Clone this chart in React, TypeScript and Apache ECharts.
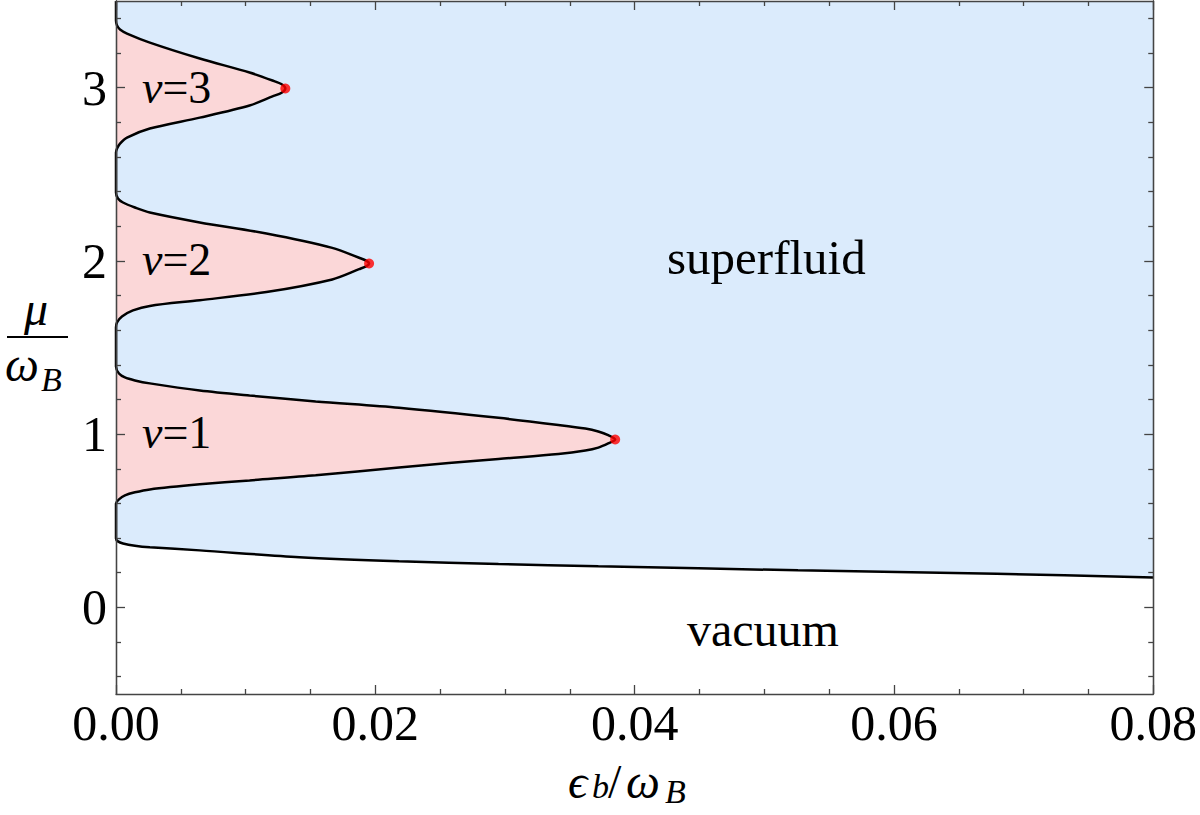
import React, { useEffect, useRef } from "react";
import * as echarts from "echarts";

const FONT = "'Liberation Serif', 'Times New Roman', Times, serif";

// Axis ranges and ticks
const xMin = 0;
const xMax = 0.08;
const xInterval = 0.02;
const yMin = -0.5;
const yMax = 3.5;
const yMajorTicks = [0, 1, 2, 3];
const yMinorTicks = [-0.4, -0.2, 0.2, 0.4, 0.6, 0.8, 1.2, 1.4, 1.6, 1.8, 2.2, 2.4, 2.6, 2.8, 3.2, 3.4];

// Phase boundary pieces: [epsilon_b/omega_B, mu/omega_B]
const lobe3Upper: [number, number][] = [
  [0, 3.387], [0.00008, 3.358], [0.00031, 3.335], [0.00085, 3.312], [0.00261, 3.26],
  [0.00646, 3.168], [0.0103, 3.087], [0.01207, 3.041], [0.01281, 3.018], [0.01306, 2.995],
];
const lobe3Lower: [number, number][] = [
  [0.01281, 2.972], [0.01207, 2.949], [0.0103, 2.897], [0.00646, 2.827], [0.00261, 2.764],
  [0.00085, 2.712], [0.00031, 2.677], [0.00008, 2.649], [0, 2.625],
];
const lobe2Upper: [number, number][] = [
  [0, 2.395], [0.00015, 2.36], [0.00054, 2.337], [0.00146, 2.308], [0.00261, 2.279],
  [0.00646, 2.222], [0.0116, 2.158], [0.01668, 2.075], [0.01875, 2.018], [0.01933, 2.0], [0.01952, 1.985],
];
const lobe2Lower: [number, number][] = [
  [0.01933, 1.97], [0.01875, 1.952], [0.01668, 1.893], [0.0116, 1.82], [0.00646, 1.773],
  [0.00261, 1.74], [0.00131, 1.714], [0.00046, 1.679], [0.00008, 1.645], [0, 1.616],
];
const lobe1Upper: [number, number][] = [
  [0, 1.391], [0.00023, 1.35], [0.00069, 1.327], [0.00146, 1.31], [0.00261, 1.293],
  [0.00646, 1.252], [0.0103, 1.223], [0.0154, 1.189], [0.02183, 1.152], [0.0295, 1.094],
  [0.03412, 1.053], [0.0362, 1.032], [0.0372, 1.015], [0.03796, 0.994], [0.0385, 0.969],
];
const lobe1Lower: [number, number][] = [
  [0.03796, 0.946], [0.0372, 0.922], [0.0362, 0.905], [0.03412, 0.885], [0.0295, 0.857],
  [0.02183, 0.808], [0.0154, 0.762], [0.0103, 0.733], [0.00646, 0.71], [0.00261, 0.681],
  [0.00146, 0.664], [0.00069, 0.646], [0.00023, 0.623], [0, 0.6],
];
const vacuumEdge: [number, number][] = [
  [0, 0.398], [0.00015, 0.381], [0.00054, 0.369], [0.00146, 0.356], [0.00261, 0.347],
  [0.00646, 0.329], [0.01414, 0.29], [0.02183, 0.266], [0.0295, 0.25], [0.0372, 0.237],
  [0.0526, 0.214], [0.0679, 0.194], [0.08, 0.173],
];
const lobeTips: [number, number][] = [
  [0.01306, 2.995], [0.01952, 1.985], [0.0385, 0.969],
];

const superfluidRegion: [number, number][] = [[0, yMax], ...vacuumEdge, [xMax, yMax]];
const lobes: [number, number][][] = [
  [...lobe3Upper, ...lobe3Lower],
  [...lobe2Upper, ...lobe2Lower],
  [...lobe1Upper, ...lobe1Lower],
];
const boundary: [number, number][] = [
  [0, yMax], ...lobe3Upper, ...lobe3Lower, ...lobe2Upper, ...lobe2Lower,
  ...lobe1Upper, ...lobe1Lower, ...vacuumEdge,
];

const BLUE = "#dbebfc";
const PINK = "#fbd7d8";
const AXIS = "#444";

function polygonSeries(points: [number, number][], fill: string, z: number, smooth: number) {
  return {
    type: "custom",
    xAxisIndex: 0,
    yAxisIndex: 0,
    z,
    silent: true,
    clip: true,
    data: points,
    encode: { x: 0, y: 1 },
    renderItem: (params: any, api: any) => {
      if (params.dataIndex !== 0) return null;
      return {
        type: "polygon",
        shape: { points: points.map((p) => api.coord(p)), smooth },
        style: { fill, stroke: null },
      };
    },
  };
}

function xAxisDef(position: "bottom" | "top", labels: boolean) {
  return {
    type: "value",
    position,
    min: xMin,
    max: xMax,
    interval: xInterval,
    z: 10,
    splitLine: { show: false },
    axisLine: { show: true, onZero: false, lineStyle: { color: AXIS, width: 1.3 } },
    axisTick: { show: true, inside: true, length: 9, lineStyle: { color: AXIS, width: 1.3 } },
    minorTick: { show: true, splitNumber: 4, length: 5, lineStyle: { color: AXIS, width: 1.3 } },
    axisLabel: {
      show: labels,
      margin: 4,
      color: "#000",
      fontFamily: FONT,
      fontSize: 50,
      formatter: (v: number) => v.toFixed(2),
    },
  };
}

function yAxisDef(position: "left" | "right", ticks: number[], len: number, labels: boolean) {
  return {
    type: "value",
    position,
    min: yMin,
    max: yMax,
    z: 10,
    splitLine: { show: false },
    axisLine: { show: true, onZero: false, lineStyle: { color: AXIS, width: 1.3 } },
    axisTick: {
      show: true,
      inside: true,
      length: len,
      customValues: ticks,
      lineStyle: { color: AXIS, width: 1.3 },
    },
    minorTick: { show: false },
    axisLabel: {
      show: labels,
      customValues: yMajorTicks,
      margin: 9,
      color: "#000",
      fontFamily: FONT,
      fontSize: 50,
      formatter: (v: number) => String(v),
    },
  };
}

export default function App() {
  const ref = useRef<HTMLDivElement>(null);
  useEffect(() => {
    if (!ref.current) return;
    const chart = echarts.init(ref.current, null, { renderer: "svg" });
    const textStyle = (text: string, size: number, italic: boolean) => ({
      text,
      fontFamily: FONT,
      fontSize: size,
      fontStyle: italic ? "italic" : "normal",
      fill: "#000",
    });
    const nuLabel = (k: string, x: number, y: number) => ({
      type: "text",
      x,
      y,
      z: 100,
      style: {
        text: "{i|ν}=" + k,
        fontFamily: FONT,
        fontSize: 46,
        fill: "#000",
        verticalAlign: "middle",
        align: "left",
        rich: { i: { fontFamily: FONT, fontSize: 46, fontStyle: "italic", fill: "#000" } },
      },
    });
    chart.setOption({
      animation: false,
      backgroundColor: "#ffffff",
      grid: { left: 116, right: 44, top: 1, bottom: 121, containLabel: false },
      xAxis: [xAxisDef("bottom", true), xAxisDef("top", false)],
      yAxis: [
        yAxisDef("left", yMajorTicks, 9, true),
        yAxisDef("left", yMinorTicks, 5, false),
        yAxisDef("right", yMajorTicks, 9, false),
        yAxisDef("right", yMinorTicks, 5, false),
      ],
      series: [
        polygonSeries(superfluidRegion, BLUE, 1, 0),
        ...lobes.map((l) => polygonSeries(l, PINK, 2, 0.3)),
        {
          type: "line",
          name: "boundary",
          xAxisIndex: 0,
          yAxisIndex: 0,
          z: 3,
          data: boundary,
          showSymbol: false,
          symbol: "none",
          smooth: 0.3,
          silent: true,
          lineStyle: { color: "#000", width: 2.5 },
        },
        {
          type: "scatter",
          name: "tips",
          xAxisIndex: 0,
          yAxisIndex: 0,
          z: 4,
          data: lobeTips,
          symbol: "circle",
          symbolSize: 10,
          silent: true,
          itemStyle: { color: "#ff0000" },
        },
      ],
      graphic: [
        nuLabel("3", 142, 87),
        nuLabel("2", 142, 259),
        nuLabel("1", 142, 432),
        { type: "text", x: 667, y: 257, z: 100, style: { ...textStyle("superfluid", 49, false), verticalAlign: "middle" } },
        { type: "text", x: 687, y: 629, z: 100, style: { ...textStyle("vacuum", 48, false), verticalAlign: "middle" } },
        // x axis title: ϵ_b / ω_B
        { type: "text", x: 568, y: 781, z: 100, style: { ...textStyle("ϵ", 48, true), verticalAlign: "middle" } },
        { type: "text", x: 592, y: 786, z: 100, style: { ...textStyle("b", 34, true), verticalAlign: "middle" } },
        { type: "text", x: 608, y: 781, z: 100, style: { ...textStyle("/", 48, false), verticalAlign: "middle" } },
        { type: "text", x: 626, y: 781, z: 100, style: { ...textStyle("ω", 48, true), verticalAlign: "middle" } },
        { type: "text", x: 665, y: 791, z: 100, style: { ...textStyle("B", 34, true), verticalAlign: "middle" } },
        // y axis title: μ over ω_B
        { type: "text", x: 36, y: 308, z: 100, style: { ...textStyle("μ", 48, true), align: "center", verticalAlign: "middle" } },
        { type: "line", z: 100, shape: { x1: 7, y1: 337, x2: 68, y2: 337 }, style: { stroke: "#000", lineWidth: 2.2 } },
        { type: "text", x: 5, y: 364, z: 100, style: { ...textStyle("ω", 48, true), verticalAlign: "middle" } },
        { type: "text", x: 41, y: 379, z: 100, style: { ...textStyle("B", 34, true), verticalAlign: "middle" } },
      ],
    });
    return () => chart.dispose();
  }, []);
  return (
    <div
      ref={ref}
      style={{ position: "fixed", left: 0, top: 0, width: 1200, height: 815, background: "#fff" }}
    />
  );
}
